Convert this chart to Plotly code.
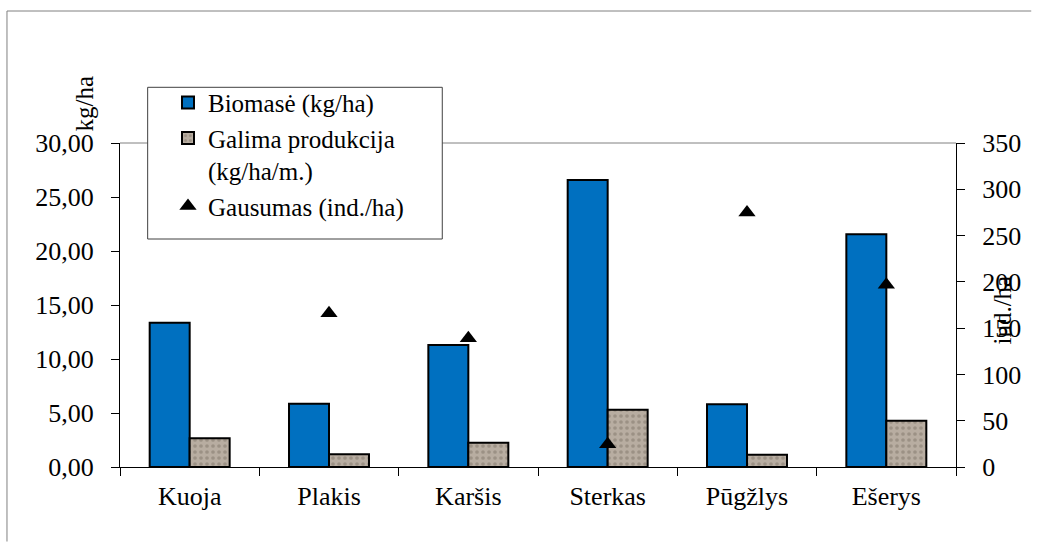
import plotly.graph_objects as go

# Fish species and survey values
species = ["Kuoja", "Plakis", "Karšis", "Sterkas", "Pūgžlys", "Ešerys"]
biomass = [13.36, 5.86, 11.30, 26.57, 5.80, 21.54]          # kg/ha
production = [2.66, 1.17, 2.25, 5.31, 1.14, 4.29]            # kg/ha/m.
abundance = [None, 166, 139, 24.5, 275, 197]                 # ind./ha

left_ticks = [0, 5, 10, 15, 20, 25, 30]
right_ticks = [0, 50, 100, 150, 200, 250, 300, 350]

FONT = "Liberation Serif"
BLUE = "#0070C0"
STONE = "#b8ada1"

fig = go.Figure()

fig.add_trace(go.Bar(
    name="Biomasė (kg/ha)", x=species, y=biomass,
    marker=dict(color=BLUE, line=dict(color="black", width=2)),
))
fig.add_trace(go.Bar(
    name="Galima produkcija<br>(kg/ha/m.)", x=species, y=production,
    marker=dict(color=STONE, line=dict(color="black", width=2),
                pattern=dict(shape=".", fgcolor="#7f756a", size=6, solidity=0.3)),
))
fig.add_trace(go.Scatter(
    name="Gausumas (ind./ha)", x=species, y=abundance, yaxis="y2",
    mode="markers", marker=dict(symbol="triangle-up", size=15, color="black"),
))

tick_font = dict(family=FONT, size=26, color="black")

fig.update_layout(
    width=1038, height=546,
    margin=dict(l=120, r=82, t=143, b=79),
    paper_bgcolor="white", plot_bgcolor="white",
    font=dict(family=FONT, size=24, color="black"),
    separators=", ",
    barmode="group", bargap=0.426, bargroupgap=0,
    showlegend=True,
    legend=dict(
        x=0.0574, y=1.195, xanchor="left", yanchor="top",
        bgcolor="rgba(0,0,0,0)", borderwidth=0,
        font=dict(family=FONT, size=25, color="black"),
        valign="top", traceorder="normal",
    ),
    xaxis=dict(
        type="category", showline=True, linecolor="black", linewidth=1,
        ticks="outside", tickson="boundaries", ticklen=8, tickcolor="black",
        showgrid=False, tickfont=tick_font, ticklabelstandoff=6,
    ),
    yaxis=dict(
        range=[0, 30], tickvals=left_ticks, tickformat=".2f",
        showline=True, linecolor="black", linewidth=1,
        ticks="outside", ticklen=8, tickcolor="black",
        showgrid=False, zeroline=False, tickfont=tick_font, ticklabelstandoff=12,
    ),
    yaxis2=dict(
        range=[0, 350], tickvals=right_ticks, overlaying="y", side="right", anchor="x",
        showline=True, linecolor="black", linewidth=1,
        ticks="outside", ticklen=8, tickcolor="black",
        showgrid=False, zeroline=False, tickfont=tick_font, ticklabelstandoff=12,
    ),
    # inward halves of the crossing tick marks
    xaxis2=dict(
        overlaying="x", anchor="y", side="bottom", range=[-0.5, 5.5],
        tickvals=[i - 0.5 for i in range(7)], ticks="inside", ticklen=7,
        tickcolor="black", showticklabels=False, showgrid=False,
        zeroline=False, showline=False,
    ),
    yaxis3=dict(
        overlaying="y", anchor="x", side="left", range=[0, 30],
        tickvals=left_ticks, ticks="inside", ticklen=7, tickcolor="black",
        showticklabels=False, showgrid=False, zeroline=False, showline=False,
    ),
    yaxis4=dict(
        overlaying="y", anchor="x", side="right", range=[0, 350],
        tickvals=right_ticks, ticks="inside", ticklen=7, tickcolor="black",
        showticklabels=False, showgrid=False, zeroline=False, showline=False,
    ),
    shapes=[
        # outer chart frame (left and top edges)
        dict(type="path", xref="paper", yref="paper",
             path="M -0.1352 -0.23 L -0.1352 1.4074 L 1.09 1.4074",
             line=dict(color="#808080", width=1)),
        # top edge of plot area
        dict(type="line", xref="paper", yref="paper", x0=0, x1=1, y0=1, y1=1,
             line=dict(color="#808080", width=1), layer="above"),
        # legend box
        dict(type="rect", xref="paper", yref="paper", x0=0.0331, x1=0.3855,
             y0=0.7037, y1=1.1719, fillcolor="white",
             line=dict(color="#404040", width=1), layer="above"),
    ],
    annotations=[
        dict(text="kg/ha", xref="paper", yref="paper", x=-0.061, y=1.213,
             textangle=-90, showarrow=False, font=dict(family=FONT, size=25, color="black")),
        dict(text="ind./ha", xref="paper", yref="paper", x=1.0742, y=0.4846,
             textangle=-90, showarrow=False, font=dict(family=FONT, size=25, color="black")),
    ],
)

fig.write_html("out.html")
